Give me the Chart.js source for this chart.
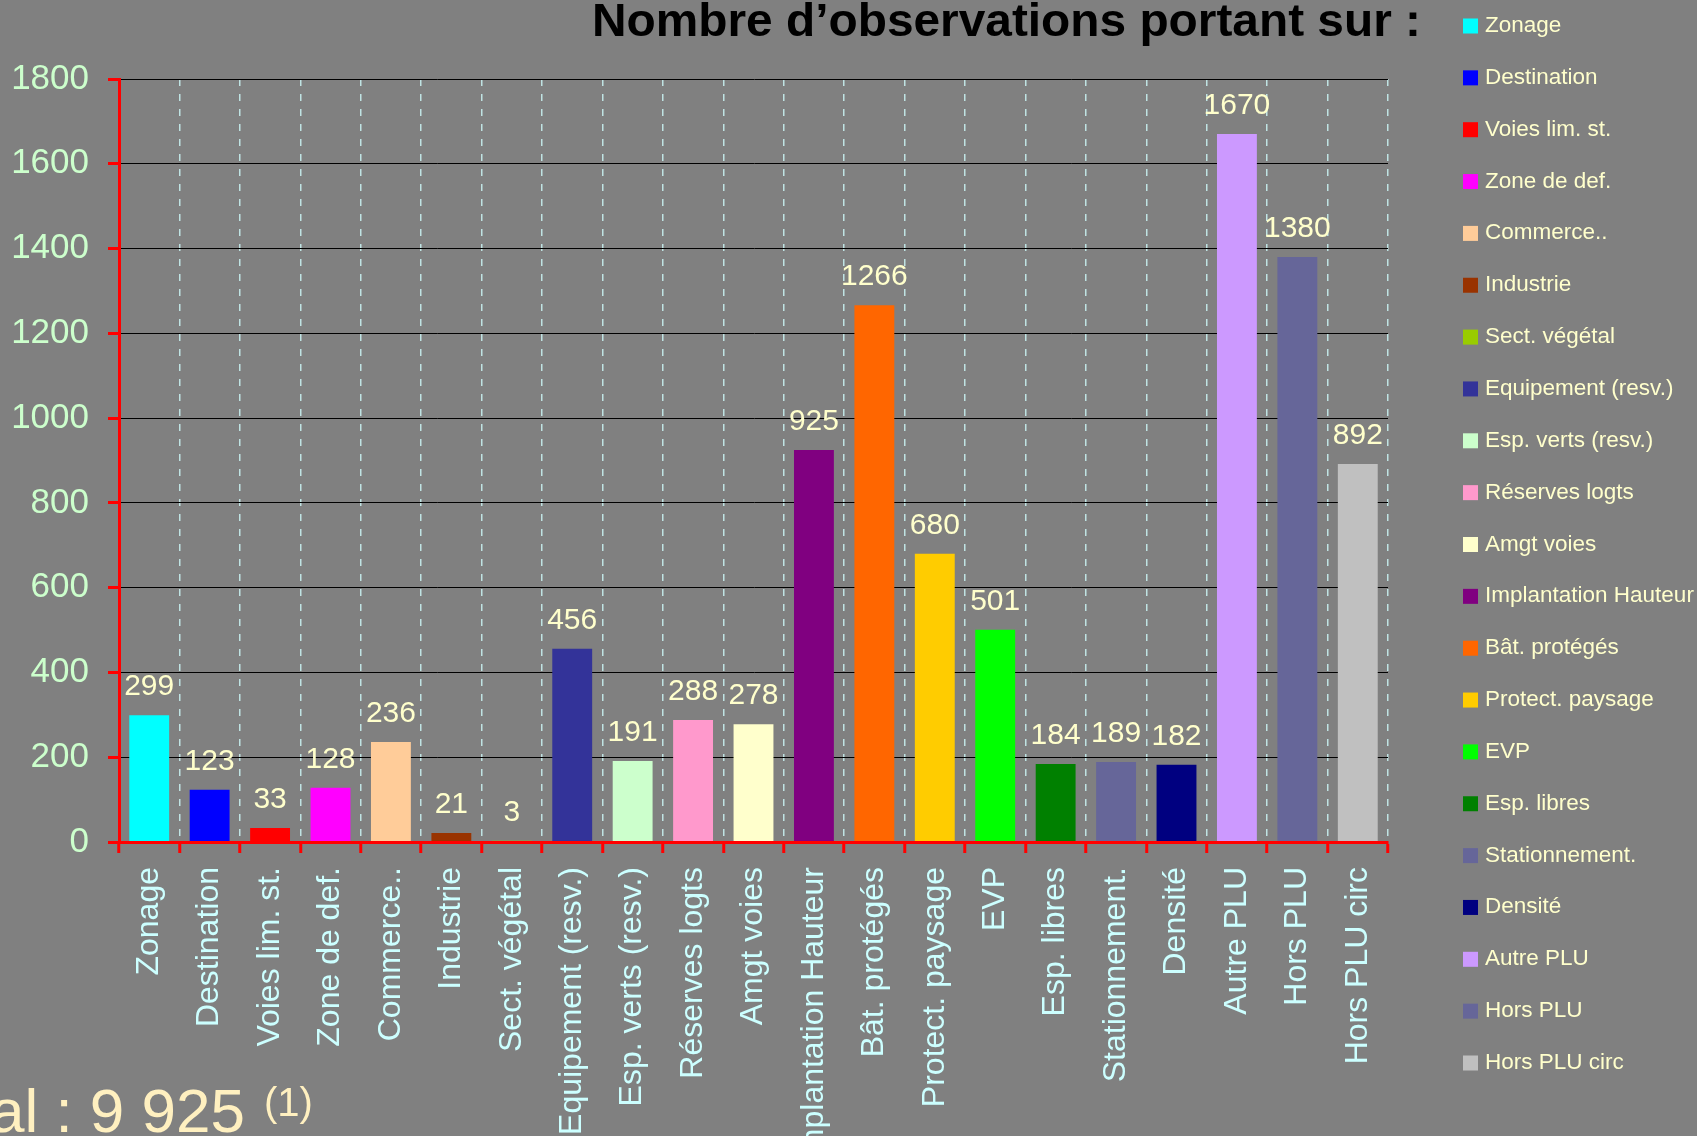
<!DOCTYPE html>
<html lang="fr">
<head>
  <meta charset="UTF-8">
  <title>Nombre d'observations</title>
  <script src="https://cdn.jsdelivr.net/npm/chart.js"></script>
  <style>
    html, body { margin: 0; padding: 0; background: #808080; }
    #wrap { width: 1697px; height: 1136px; position: relative; }
  </style>
</head>
<body>
  <div id="wrap"><canvas id="graphe"></canvas></div>

  <script>
    // données
    const categories = ['Zonage', 'Destination', 'Voies lim. st.', 'Zone de def.', 'Commerce..', 'Industrie',
      'Sect. végétal', 'Equipement (resv.)', 'Esp. verts (resv.)', 'Réserves logts', 'Amgt voies',
      'Implantation Hauteur', 'Bât. protégés', 'Protect. paysage', 'EVP', 'Esp. libres', 'Stationnement.',
      'Densité', 'Autre PLU', 'Hors PLU', 'Hors PLU circ'];
    const observations = [299, 123, 33, 128, 236, 21, 3, 456, 191, 288, 278, 925, 1266, 680, 501, 184, 189, 182, 1670, 1380, 892];
    const couleurs = ['#00FFFF', '#0000FF', '#FF0000', '#FF00FF', '#FFCC99', '#993300', '#99CC00', '#333399',
      '#CCFFCC', '#FF99CC', '#FFFFCC', '#800080', '#FF6600', '#FFCC00', '#00FF00', '#008000', '#666699',
      '#000080', '#CC99FF', '#666699', '#C0C0C0'];
    const yTicks = [0, 200, 400, 600, 800, 1000, 1200, 1400, 1600, 1800];
    const titre = 'Nombre d\u2019observations portant sur :';
    const total = 'Total : 9 925';

    const police = '"Liberation Sans", Arial, sans-serif';
    Chart.defaults.font.family = police;

    // valeurs au-dessus des barres
    const etiquettes = {
      id: 'etiquettes',
      afterDatasetsDraw(chart) {
        const ctx = chart.ctx;
        ctx.save();
        ctx.font = '30px ' + police;
        ctx.fillStyle = '#FFFFCC';
        ctx.textAlign = 'center';
        ctx.textBaseline = 'alphabetic';
        chart.getDatasetMeta(0).data.forEach((bar, i) => {
          ctx.fillText(String(observations[i]), bar.x, bar.y - 20);
        });
        ctx.restore();
      }
    };

    // titre, légende et total
    const habillage = {
      id: 'habillage',
      afterDraw(chart) {
        const ctx = chart.ctx;
        ctx.save();

        // titre (police étroite)
        ctx.font = 'bold 47px "Liberation Sans Narrow", ' + police;
        const w = ctx.measureText(titre).width;
        ctx.fillStyle = '#000000';
        ctx.textAlign = 'left';
        ctx.textBaseline = 'alphabetic';
        ctx.save();
        ctx.translate(592, 36);
        ctx.scale(829 / w, 1);
        ctx.fillText(titre, 0, 0);
        ctx.restore();

        // légende
        ctx.font = '22.5px ' + police;
        categories.forEach((c, i) => {
          const yc = 26 + i * 51.85;
          ctx.fillStyle = couleurs[i];
          ctx.fillRect(1463, yc - 7.5, 15, 15);
          ctx.fillStyle = '#FFFFCC';
          ctx.fillText(c, 1485, yc + 6);
        });

        // total
        ctx.fillStyle = '#FFF0C0';
        ctx.font = '62px ' + police;
        ctx.textAlign = 'right';
        ctx.fillText(total, 245, 1132);
        ctx.textAlign = 'left';
        ctx.font = '40px ' + police;
        ctx.fillText('(1)', 264, 1116);

        ctx.restore();
      }
    };

    new Chart(document.getElementById('graphe'), {
      type: 'bar',
      data: {
        labels: categories,
        datasets: [{
          data: observations,
          backgroundColor: couleurs,
          borderWidth: 0,
          categoryPercentage: 1,
          barPercentage: 0.66
        }]
      },
      options: {
        responsive: true,
        maintainAspectRatio: false,
        animation: false,
        layout: { padding: { left: 0, top: 79, right: 309, bottom: 0 } },
        plugins: {
          legend: { display: false },
          tooltip: { enabled: false }
        },
        scales: {
          x: {
            afterFit: s => { s.height = 294; },
            grid: {
              offset: true,
              color: '#BFE3E3',
              lineWidth: 1.5,
              borderDash: [7, 8],
              tickColor: '#FF0000',
              tickWidth: 3,
              tickLength: 11
            },
            border: { color: '#FF0000', width: 3, dash: [7, 8], z: 1 },
            ticks: {
              color: '#CCFFFF',
              font: { size: 32 },
              minRotation: 90,
              maxRotation: 90,
              autoSkip: false,
              padding: 14
            }
          },
          y: {
            min: 0,
            max: 1800,
            afterFit: s => { s.width = 119; },
            afterBuildTicks: s => { s.ticks = yTicks.map(v => ({ value: v })); },
            grid: {
              color: '#000000',
              lineWidth: 1,
              tickColor: '#FF0000',
              tickWidth: 3,
              tickLength: 11
            },
            border: { color: '#FF0000', width: 3, z: 1 },
            ticks: {
              color: '#CCFFCC',
              font: { size: 35 },
              padding: 19,
              callback: v => String(v)
            }
          }
        }
      },
      plugins: [etiquettes, habillage]
    });
  </script>
</body>
</html>
